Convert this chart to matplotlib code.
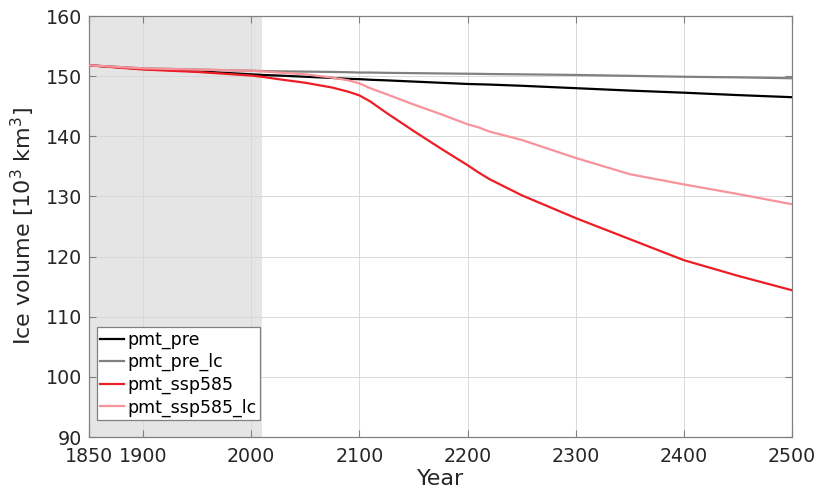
import matplotlib
matplotlib.use("Agg")
import matplotlib.pyplot as plt

years = [1850, 1900, 1950, 2000, 2010, 2025, 2050, 2075, 2090, 2100, 2110, 2125,
         2150, 2175, 2200, 2210, 2220, 2250, 2300, 2350, 2400, 2450, 2500]

pmt_pre = [151.8, 151.2, 150.8, 150.3, 150.2, 150.1, 149.9, 149.7, 149.55, 149.5, 149.4, 149.3,
           149.1, 148.9, 148.7, 148.65, 148.6, 148.4, 148.0, 147.6, 147.25, 146.85, 146.5]
pmt_pre_lc = [151.8, 151.3, 151.1, 150.9, 150.85, 150.8, 150.75, 150.7, 150.65, 150.6, 150.6, 150.55,
              150.5, 150.45, 150.4, 150.38, 150.35, 150.3, 150.2, 150.05, 149.9, 149.8, 149.65]
pmt_ssp585 = [151.8, 151.1, 150.7, 150.1, 149.9, 149.5, 148.9, 148.1, 147.4, 146.8, 145.8, 143.9,
              140.9, 138.0, 135.2, 134.0, 132.9, 130.2, 126.4, 122.9, 119.4, 116.8, 114.4]
pmt_ssp585_lc = [151.8, 151.3, 151.1, 150.9, 150.8, 150.6, 150.3, 149.75, 149.3, 148.8, 148.0, 147.0,
                 145.3, 143.7, 142.0, 141.5, 140.8, 139.4, 136.4, 133.7, 132.0, 130.4, 128.7]

series = [
    ("pmt_pre", pmt_pre, "#000000"),
    ("pmt_pre_lc", pmt_pre_lc, "#808080"),
    ("pmt_ssp585", pmt_ssp585, "#ee1d25"),
    ("pmt_ssp585_lc", pmt_ssp585_lc, "#f7939a"),
]

shade_start, shade_end = 1850, 2010
xticks = [1850, 1900, 2000, 2100, 2200, 2300, 2400, 2500]
yticks = [90, 100, 110, 120, 130, 140, 150, 160]

fig = plt.figure(figsize=(8.2, 4.97), dpi=100)
ax = fig.add_axes([0.1085, 0.1207, 0.8574, 0.8471])

ax.axvspan(shade_start, shade_end, color="#e5e5e5", zorder=0, lw=0)
for name, vals, col in series:
    ax.plot(years, vals, color=col, lw=1.6, label=name, zorder=3)

ax.set_xlim(1850, 2500)
ax.set_ylim(90, 160)
ax.set_xticks(xticks)
ax.set_yticks(yticks)
ax.grid(True, color="#d8d8d8", lw=0.7, zorder=1)
ax.set_axisbelow(True)
ax.tick_params(direction="in", length=5, top=True, right=True, labelsize=13.7,
               labelcolor="#262626", color="#808080", width=0.8)
ax.tick_params(axis="x", pad=7)
ax.tick_params(axis="y", pad=5)
for sp in ax.spines.values():
    sp.set_color("#808080")
    sp.set_linewidth(0.9)

ax.set_xlabel("Year", fontsize=16, color="#262626", labelpad=2)
ax.set_ylabel("Ice volume [10$^3$ km$^3$]", fontsize=16, color="#262626", labelpad=6)

leg = ax.legend(loc="lower left", bbox_to_anchor=(0.011, 0.04), fontsize=12.5,
                frameon=True, fancybox=False, edgecolor="#808080", framealpha=1,
                handlelength=1.4, handletextpad=0.15, borderpad=0.2, labelspacing=0.25,
                borderaxespad=0)
leg.get_frame().set_linewidth(0.9)

fig.savefig("out.png", dpi=100)
